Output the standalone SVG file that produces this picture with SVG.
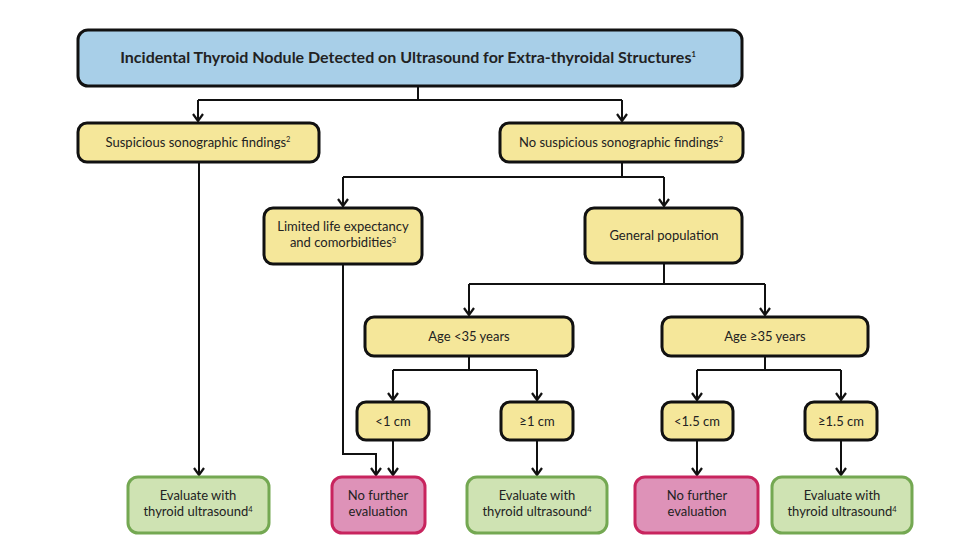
<svg xmlns="http://www.w3.org/2000/svg" width="959" height="547" viewBox="0 0 959 547">
<defs>
<marker id="arr" viewBox="0 0 12 12" refX="11" refY="6" markerWidth="12" markerHeight="12" markerUnits="userSpaceOnUse" orient="auto">
<path d="M4,1 L11,6 L4,11" fill="none" stroke="#111" stroke-width="2.2"/>
</marker>
<style>
.y{fill:#f5e79a;stroke:#111;stroke-width:3}
.b{fill:#a8cfe8;stroke:#111;stroke-width:3}
.g{fill:#cfe3b3;stroke:#74a852;stroke-width:3}
.p{fill:#de92b8;stroke:#c8245e;stroke-width:3}
text{font-family:Lato,"Open Sans","Liberation Sans",sans-serif;font-size:13px;fill:#222;text-anchor:middle}
.t{font-weight:bold;font-size:16px}
.c path{fill:none;stroke:#111;stroke-width:2}
.s{font-size:7.5px}
</style>
</defs>
<rect width="959" height="547" fill="#fff"/>
<g class="c" id="connectors">
<path d="M418,86 V100 M198,100 H622"/>
<path d="M198,100 V121" marker-end="url(#arr)"/>
<path d="M622,100 V121" marker-end="url(#arr)"/>
<path d="M199,162 V475" marker-end="url(#arr)"/>
<path d="M622,162 V177 M343,177 H664"/>
<path d="M343,177 V206" marker-end="url(#arr)"/>
<path d="M664,177 V206" marker-end="url(#arr)"/>
<path d="M343,264 V454 H376 V475" marker-end="url(#arr)"/>
<path d="M664,263 V284 M469,284 H765"/>
<path d="M469,284 V315" marker-end="url(#arr)"/>
<path d="M765,284 V315" marker-end="url(#arr)"/>
<path d="M469,356 V370 M393,370 H537"/>
<path d="M393,370 V400" marker-end="url(#arr)"/>
<path d="M537,370 V400" marker-end="url(#arr)"/>
<path d="M765,356 V370 M697,370 H841"/>
<path d="M697,370 V400" marker-end="url(#arr)"/>
<path d="M841,370 V400" marker-end="url(#arr)"/>
<path d="M393,440 V475" marker-end="url(#arr)"/>
<path d="M537,440 V475" marker-end="url(#arr)"/>
<path d="M697,440 V475" marker-end="url(#arr)"/>
<path d="M841,440 V475" marker-end="url(#arr)"/>
</g>
<g id="n-top"><rect class="b" x="78" y="30" width="664" height="56" rx="10"/><text class="t" x="408" y="63">Incidental Thyroid Nodule Detected on Ultrasound for Extra-thyroidal Structures<tspan class="s" dy="-6">1</tspan></text></g>
<g id="n-susp"><rect class="y" x="78" y="123" width="241" height="39" rx="9"/><text x="198" y="147">Suspicious sonographic findings<tspan class="s" dy="-5">2</tspan></text></g>
<g id="n-nosusp"><rect class="y" x="500" y="123" width="243" height="39" rx="9"/><text x="621" y="147">No suspicious sonographic findings<tspan class="s" dy="-5">2</tspan></text></g>
<g id="n-limited"><rect class="y" x="264" y="208" width="158" height="56" rx="9"/><text x="343" y="231">Limited life expectancy</text><text x="343" y="247">and comorbidities<tspan class="s" dy="-4">3</tspan></text></g>
<g id="n-general"><rect class="y" x="585" y="208" width="157" height="55" rx="9"/><text x="664" y="240">General population</text></g>
<g id="n-age1"><rect class="y" x="365" y="317" width="208" height="39" rx="9"/><text x="469" y="341">Age &lt;35 years</text></g>
<g id="n-age2"><rect class="y" x="662" y="317" width="206" height="39" rx="9"/><text x="765" y="341">Age ≥35 years</text></g>
<g id="n-lt1"><rect class="y" x="357" y="402" width="72" height="38" rx="9"/><text x="393" y="426">&lt;1 cm</text></g>
<g id="n-ge1"><rect class="y" x="501" y="402" width="72" height="38" rx="9"/><text x="537" y="426">≥1 cm</text></g>
<g id="n-lt15"><rect class="y" x="662" y="402" width="71" height="38" rx="9"/><text x="697" y="426">&lt;1.5 cm</text></g>
<g id="n-ge15"><rect class="y" x="805" y="402" width="72" height="38" rx="9"/><text x="841" y="426">≥1.5 cm</text></g>
<g id="n-eval1"><rect class="g" x="128" y="477" width="141" height="56" rx="10"/><text x="198" y="500">Evaluate with</text><text x="198" y="516">thyroid ultrasound<tspan class="s" dy="-4">4</tspan></text></g>
<g id="n-nofurther1"><rect class="p" x="332" y="477" width="93" height="56" rx="10"/><text x="378" y="500">No further</text><text x="378" y="516">evaluation</text></g>
<g id="n-eval2"><rect class="g" x="467" y="477" width="140" height="56" rx="10"/><text x="537" y="500">Evaluate with</text><text x="537" y="516">thyroid ultrasound<tspan class="s" dy="-4">4</tspan></text></g>
<g id="n-nofurther2"><rect class="p" x="635" y="477" width="123" height="56" rx="10"/><text x="697" y="500">No further</text><text x="697" y="516">evaluation</text></g>
<g id="n-eval3"><rect class="g" x="772" y="477" width="140" height="56" rx="10"/><text x="842" y="500">Evaluate with</text><text x="842" y="516">thyroid ultrasound<tspan class="s" dy="-4">4</tspan></text></g>
</svg>
